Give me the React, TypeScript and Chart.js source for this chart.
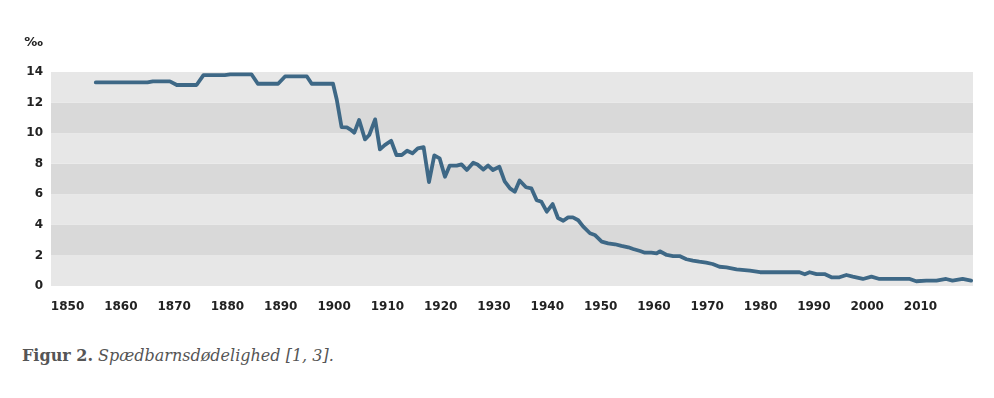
import React, { useEffect, useRef } from "react";
import { Chart, registerables } from "chart.js";

Chart.register(...registerables);

const years: number[] = [
  1855.3, 1865, 1866, 1869.2, 1870.5, 1874.2, 1875.5, 1879.5, 1880.5, 1884.5, 1885.7, 1889.5, 1890.8, 1894.9, 1895.8, 1899.8,
  1900.5, 1901.4, 1902.4, 1903, 1903.8, 1904.7, 1905.8, 1906.6, 1907.7, 1908.6, 1909.5, 1910.7, 1911.7, 1912.7, 1913.7, 1914.7,
  1915.7, 1916.8, 1917.8, 1918.8, 1919.8, 1920.8, 1921.7, 1923, 1923.9, 1924.9, 1926.1, 1926.9, 1928, 1928.9, 1929.8, 1931,
  1932, 1933, 1933.9, 1934.8, 1936, 1937, 1938, 1938.9, 1939.9, 1941, 1942, 1943, 1943.9, 1944.8, 1945.8, 1946.7, 1948,
  1948.9, 1950.2, 1951.4, 1952.7, 1953.9, 1955.2, 1956.1, 1957.4, 1958.3, 1959.5, 1960.5, 1961.1, 1962.4, 1963.6, 1964.8,
  1966.1, 1967.3, 1968.5, 1969.8, 1971, 1972.3, 1973.6, 1975.5, 1978, 1979.9, 1983.6, 1987.3, 1988.3, 1989.2, 1990.5, 1992,
  1993.3, 1994.8, 1996.1, 1997.3, 1999.2, 2000.8, 2002.3, 2006, 2008, 2009.2, 2011.1, 2013, 2014.8, 2016, 2017.9, 2019.5,
];

const values: number[] = [
  13.32, 13.32, 13.39, 13.39, 13.15, 13.15, 13.8, 13.8, 13.85, 13.85, 13.23, 13.23, 13.71, 13.71, 13.23, 13.23,
  12.2, 10.4, 10.38, 10.25, 10.03, 10.86, 9.59, 9.88, 10.9, 8.94, 9.22, 9.5, 8.57, 8.57, 8.85, 8.68,
  9.0, 9.08, 6.8, 8.55, 8.35, 7.15, 7.88, 7.88, 7.96, 7.59, 8.07, 7.95, 7.62, 7.88, 7.59, 7.8,
  6.85, 6.39, 6.17, 6.9, 6.46, 6.39, 5.62, 5.51, 4.86, 5.36, 4.45, 4.27, 4.49, 4.49, 4.3, 3.9, 3.45,
  3.34, 2.9, 2.79, 2.73, 2.62, 2.53, 2.42, 2.29, 2.18, 2.18, 2.14, 2.27, 2.03, 1.96, 1.96,
  1.75, 1.66, 1.59, 1.53, 1.44, 1.26, 1.22, 1.09, 1.0, 0.9, 0.9, 0.9, 0.77, 0.9, 0.78, 0.78,
  0.57, 0.57, 0.72, 0.61, 0.46, 0.61, 0.46, 0.46, 0.46, 0.31, 0.35, 0.35, 0.46, 0.35, 0.46, 0.35,
];

const xTicks: number[] = [1850, 1860, 1870, 1880, 1890, 1900, 1910, 1920, 1930, 1940, 1950, 1960, 1970, 1980, 1990, 2000, 2010];
const yTicks: number[] = [0, 2, 4, 6, 8, 10, 12, 14];
const unitLabel = "‰";
const captionBold = "Figur 2.";
const captionItalic = "Spædbarnsdødelighed [1, 3].";

const bandsPlugin = {
  id: "bands",
  beforeDraw(chart: any) {
    const { ctx, chartArea, scales } = chart;
    const y = scales.y;
    ctx.save();
    for (let i = 0; i < yTicks.length - 1; i++) {
      const top = y.getPixelForValue(yTicks[i + 1]);
      const bottom = y.getPixelForValue(yTicks[i]);
      ctx.fillStyle = i % 2 === 0 ? "#e7e7e7" : "#d9d9d9";
      ctx.fillRect(chartArea.left, top, chartArea.right - chartArea.left, bottom - top);
    }
    ctx.restore();
  },
  afterDraw(chart: any) {
    const { ctx, chartArea } = chart;
    ctx.save();
    ctx.fillStyle = "#222";
    ctx.font = "bold 13px 'DejaVu Sans'";
    ctx.textAlign = "right";
    ctx.textBaseline = "middle";
    ctx.fillText(unitLabel, chartArea.left - 8, 43);
    ctx.restore();
  },
};

export default function App() {
  const ref = useRef<HTMLCanvasElement>(null);
  useEffect(() => {
    document.body.style.margin = "0";
    const data = years.map((x, i) => ({ x, y: values[i] }));
    const chart = new Chart(ref.current!, {
      type: "line",
      data: {
        datasets: [
          {
            data,
            borderColor: "#3e6886",
            borderWidth: 3.8,
            pointRadius: 0,
            tension: 0,
            borderJoinStyle: "round",
            borderCapStyle: "round",
          },
        ],
      },
      plugins: [bandsPlugin],
      options: {
        animation: false,
        responsive: false,
        maintainAspectRatio: false,
        layout: { padding: { left: 0, right: 21, top: 72, bottom: 0 } },
        plugins: { legend: { display: false }, tooltip: { enabled: false } },
        scales: {
          x: {
            type: "linear",
            min: 1846.9,
            max: 2019.85,
            grid: { display: false, drawTicks: false },
            border: { display: false },
            afterBuildTicks: (s: any) => {
              s.ticks = xTicks.map((v) => ({ value: v }));
            },
            afterFit: (s: any) => {
              s.height = 44;
            },
            ticks: {
              padding: 14,
              maxRotation: 0,
              autoSkip: false,
              color: "#222",
              font: { family: "'DejaVu Sans'", size: 12, weight: "bold" },
              callback: (v: any) => String(v),
            },
          },
          y: {
            min: 0,
            max: 14,
            grid: { display: false, drawTicks: false },
            border: { display: false },
            afterBuildTicks: (s: any) => {
              s.ticks = yTicks.map((v) => ({ value: v }));
            },
            afterFit: (s: any) => {
              s.width = 51;
            },
            ticks: {
              padding: 8,
              color: "#222",
              font: { family: "'DejaVu Sans'", size: 12, weight: "bold" },
            },
          },
        },
      },
    });
    return () => chart.destroy();
  }, []);
  return (
    <div style={{ position: "relative", width: 994, height: 398, background: "#fff" }}>
      <canvas ref={ref} width={994} height={330} style={{ position: "absolute", left: 0, top: 0 }} />
      <div
        style={{
          position: "absolute",
          left: 22,
          top: 345,
          fontFamily: "'DejaVu Serif', serif",
          fontSize: 16,
          lineHeight: "21px",
          color: "#555",
          whiteSpace: "nowrap",
        }}
      >
        <span style={{ fontWeight: "bold" }}>{captionBold}</span>{" "}
        <span style={{ fontStyle: "italic" }}>{captionItalic}</span>
      </div>
    </div>
  );
}
